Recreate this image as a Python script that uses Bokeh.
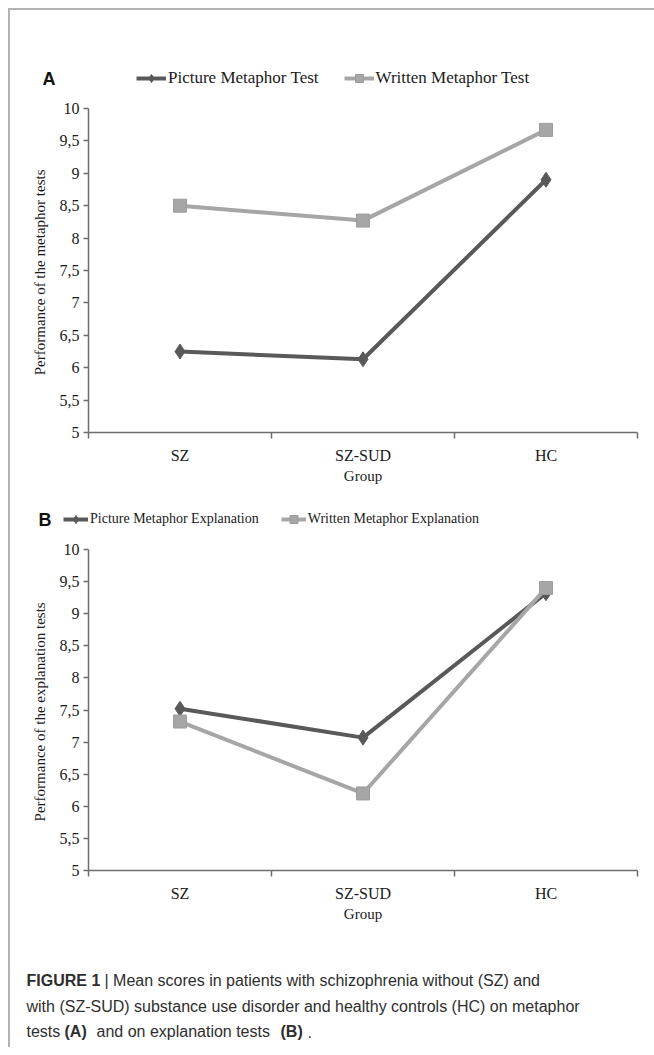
from bokeh.plotting import figure
from bokeh.models import Legend, LegendItem, Label, FixedTicker, Range1d, Spacer
from bokeh.layouts import column, row
from bokeh.embed import file_html
from bokeh.resources import INLINE

# ---------------- data ----------------
groups = ["SZ", "SZ-SUD", "HC"]
picture_test = [6.25, 6.13, 8.90]
written_test = [8.50, 8.27, 9.67]
picture_expl = [7.52, 7.07, 9.32]
written_expl = [7.32, 6.20, 9.40]
y_ticks = [5, 5.5, 6, 6.5, 7, 7.5, 8, 8.5, 9, 9.5, 10]
y_tick_labels = ["5", "5,5", "6", "6,5", "7", "7,5", "8", "8,5", "9", "9,5", "10"]
legend_a = ["Picture Metaphor Test", "Written Metaphor Test"]
legend_b = ["Picture Metaphor Explanation", "Written Metaphor Explanation"]
ylabel_a = "Performance  of the metaphor tests"
ylabel_b = "Performance  of the explanation tests"
xlabel = "Group"

DARK = "#595959"
LIGHT = "#a6a6a6"
AXIS = "#6e6e6e"
SERIF = "Liberation Serif"
SANS = "Liberation Sans"
W = 644

xs = [i + 0.5 for i in range(len(groups))]
bounds = list(range(len(groups) + 1))


def series_style(p, xv, dark_vals, light_vals):
    l1 = p.line(xv, dark_vals, line_color=DARK, line_width=4)
    s1 = p.scatter(xv, dark_vals, marker="diamond", size=15,
                   fill_color=DARK, line_color=DARK)
    l2 = p.line(xv, light_vals, line_color=LIGHT, line_width=4)
    s2 = p.scatter(xv, light_vals, marker="square", size=13,
                   fill_color=LIGHT, line_color="#9c9c9c")
    return l1, s1, l2, s2


def header(height, labels, dark_vals, light_vals, leg_loc, leg_font, leg_glyph,
           leg_spacing, letter, letter_xy):
    # the series are drawn here only to feed the legend symbols; the y range
    # (0..1) keeps their marks outside this strip's visible frame
    h = figure(width=W, height=height, x_range=Range1d(0, len(groups)),
               y_range=Range1d(0, 1),
               output_backend="svg", toolbar_location=None, min_border=0,
               min_border_left=0, min_border_right=0, min_border_top=0,
               min_border_bottom=0, x_axis_type=None, y_axis_type=None,
               frame_align=False)
    h.grid.visible = False
    h.outline_line_color = None
    l1, s1, l2, s2 = series_style(h, xs, dark_vals, light_vals)
    leg = Legend(items=[LegendItem(label=labels[0], renderers=[l1, s1]),
                        LegendItem(label=labels[1], renderers=[l2, s2])],
                 orientation="horizontal", location=leg_loc,
                 border_line_color=None, background_fill_alpha=0,
                 padding=0, margin=0, spacing=leg_spacing,
                 glyph_width=leg_glyph, glyph_height=20, label_standoff=2,
                 label_text_font=SERIF, label_text_font_size=leg_font,
                 label_text_color="#1a1a1a")
    h.add_layout(leg)
    h.add_layout(Label(x=letter_xy[0], y=letter_xy[1], x_units="screen",
                       y_units="screen", text=letter, text_font=SANS,
                       text_font_style="bold", text_font_size="18px",
                       text_baseline="middle", text_color="#111111"))
    return h


def panel(height, top, bottom, ylabel, dark_vals, light_vals):
    p = figure(width=W, height=height, x_range=Range1d(0, len(groups)),
               y_range=Range1d(5, 10), output_backend="svg", toolbar_location=None,
               min_border_left=78, min_border_right=17, min_border_top=top,
               min_border_bottom=bottom, frame_align=False)
    p.grid.visible = False
    p.outline_line_color = None

    xa = p.xaxis[0]
    xa.ticker = FixedTicker(ticks=xs, minor_ticks=bounds)
    xa.major_label_overrides = {x: g for x, g in zip(xs, groups)}
    xa.major_tick_out = 0
    xa.major_tick_in = 0
    xa.minor_tick_out = 6
    xa.minor_tick_in = 0
    xa.minor_tick_line_color = AXIS
    xa.minor_tick_line_width = 1.5
    xa.axis_line_color = AXIS
    xa.axis_line_width = 1.5
    xa.major_label_standoff = 8
    xa.major_label_text_font = SERIF
    xa.major_label_text_font_size = "16px"
    xa.major_label_text_color = "#1a1a1a"
    xa.axis_label = xlabel
    xa.axis_label_standoff = 1
    xa.axis_label_text_font = SERIF
    xa.axis_label_text_font_size = "15px"
    xa.axis_label_text_font_style = "normal"
    xa.axis_label_text_color = "#1a1a1a"

    ya = p.yaxis[0]
    ya.ticker = FixedTicker(ticks=y_ticks)
    ya.major_label_overrides = {t: l for t, l in zip(y_ticks, y_tick_labels)}
    ya.major_tick_out = 5
    ya.major_tick_in = 0
    ya.major_tick_line_color = AXIS
    ya.major_tick_line_width = 1.5
    ya.minor_tick_line_color = None
    ya.axis_line_color = AXIS
    ya.axis_line_width = 1.5
    ya.major_label_standoff = 4
    ya.major_label_text_font = SERIF
    ya.major_label_text_font_size = "16px"
    ya.major_label_text_color = "#1a1a1a"
    ya.axis_label = ylabel
    ya.axis_label_standoff = 9
    ya.axis_label_text_font = SERIF
    ya.axis_label_text_font_size = "15px"
    ya.axis_label_text_font_style = "normal"
    ya.axis_label_text_color = "#1a1a1a"

    series_style(p, xs, dark_vals, light_vals)
    return p


ha = header(90, legend_a, picture_test, written_test, (126, 12), "17px", 30, 25,
            "A", (32, 22))
pa = panel(400, 8, 68, ylabel_a, picture_test, written_test)
hb = header(40, legend_b, picture_expl, written_expl, (53, 11), "14px", 25, 22,
            "B", (28, 21))
pb = panel(405, 9, 75, ylabel_b, picture_expl, written_expl)

# ---------------- caption ----------------
cap = figure(width=W, height=102, x_range=Range1d(0, W), y_range=Range1d(0, 102),
             output_backend="svg", toolbar_location=None, min_border=0,
             min_border_left=0, min_border_right=0, min_border_top=0,
             min_border_bottom=0, x_axis_type=None, y_axis_type=None,
             frame_align=False)
cap.grid.visible = False
cap.outline_line_color = None
CAPC = "#2e2e2e"
pieces = [
    (16, 67, "FIGURE 1", "bold"),
    (94, 67, "| Mean scores in patients with schizophrenia without (SZ) and", "normal"),
    (16, 41, "with (SZ-SUD) substance use disorder and healthy controls (HC) on metaphor", "normal"),
    (16, 16, "tests", "normal"),
    (54, 16, "(A)", "bold"),
    (86, 16, "and on explanation tests", "normal"),
    (270, 16, "(B)", "bold"),
    (297, 16, ".", "normal"),
]
for x, y, t, st in pieces:
    cap.add_layout(Label(x=x, y=y, x_units="screen", y_units="screen", text=t,
                         text_font=SANS, text_font_style=st, text_font_size="16px",
                         text_baseline="middle", text_color=CAPC))

inner = column(ha, pa, hb, pb, cap, spacing=0,
               styles={"border-top": "2px solid #b3b3b3",
                       "border-left": "2px solid #b3b3b3"})
layout = column(Spacer(height=8), row(Spacer(width=8), inner, spacing=0), spacing=0)

open("out.html", "w").write(file_html(layout, INLINE))
